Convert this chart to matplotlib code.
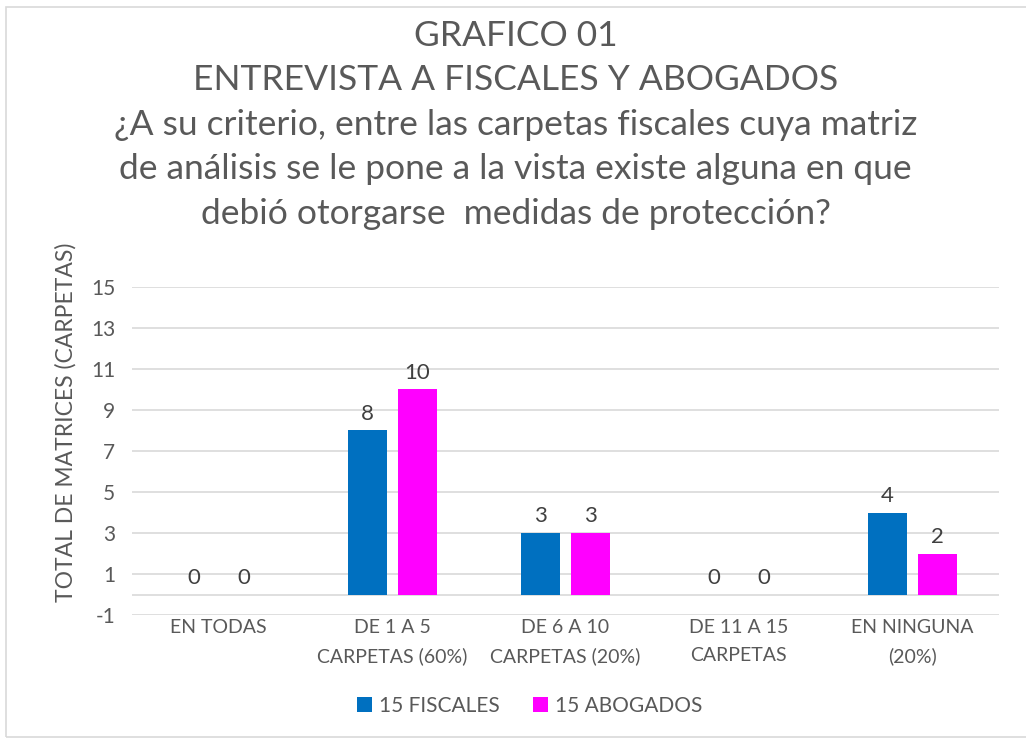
import matplotlib
matplotlib.use("Agg")
import matplotlib.pyplot as plt
import numpy as np
from matplotlib.patches import Rectangle

categories = ["EN TODAS", "DE 1 A 5\nCARPETAS (60%)", "DE 6 A 10\nCARPETAS (20%)",
              "DE 11 A 15\nCARPETAS", "EN NINGUNA\n(20%)"]
fiscales = [0, 8, 3, 0, 4]
abogados = [0, 10, 3, 0, 2]
series_names = ["15 FISCALES", "15 ABOGADOS"]
y_ticks = [-1, 1, 3, 5, 7, 9, 11, 13, 15]

title = ("GRAFICO 01\nENTREVISTA A FISCALES Y ABOGADOS\n"
         "¿A su criterio, entre las carpetas fiscales cuya matriz\n"
         "de análisis se le pone a la vista existe alguna en que\n"
         "debió otorgarse  medidas de protección?")

plt.rcParams["font.family"] = ["Lato", "DejaVu Sans"]
plt.rcParams["axes.unicode_minus"] = False
gray = "#595959"

fig = plt.figure(figsize=(10.26, 7.4), dpi=100)
fig.patches.append(Rectangle((6 / 1026, 3 / 740), 1.0, 730 / 740, transform=fig.transFigure,
                             fill=False, edgecolor="#d9d9d9", linewidth=1.2))
ax = fig.add_axes([0.1287, 0.1689, 0.8450, 0.4433])

x = np.arange(len(categories))
w = 0.225
off = 0.144
b1 = ax.bar(x - off, fiscales, w, color="#0070c0", label=series_names[0], zorder=3)
b2 = ax.bar(x + off, abogados, w, color="#ff00ff", label=series_names[1], zorder=3)
for bars in (b1, b2):
    ax.bar_label(bars, padding=5, fontsize=16, color="#404040")

ax.set_xlim(-0.5, len(categories) - 0.5)
ax.set_ylim(-1, 15)
ax.set_yticks(y_ticks)
ax.yaxis.grid(True, color="#d9d9d9", linewidth=1.2, zorder=0)
ax.axhline(0, color="#d9d9d9", linewidth=1.2, zorder=1)
ax.set_xticks(x)
ax.set_xticklabels(categories, fontsize=14, color=gray, linespacing=1.75)
ax.tick_params(axis="y", labelsize=15, colors=gray, length=0, pad=12)
ax.tick_params(axis="x", length=0, pad=3)
for s in ax.spines.values():
    s.set_visible(False)
ax.set_ylabel("TOTAL DE MATRICES (CARPETAS)", fontsize=16.5, color=gray)
ax.yaxis.set_label_coords(-0.064, 0.588)

fig.text(0.5025, 0.973, title, ha="center", va="top", fontsize=25.5, color=gray, linespacing=1.48)

fig.legend(loc="center", bbox_to_anchor=(0.516, 0.046), ncol=2, frameon=False,
           fontsize=15, labelcolor=gray, handlelength=0.75, handleheight=0.75,
           handletextpad=0.3, columnspacing=1.6)

fig.savefig("out.png", dpi=100)
